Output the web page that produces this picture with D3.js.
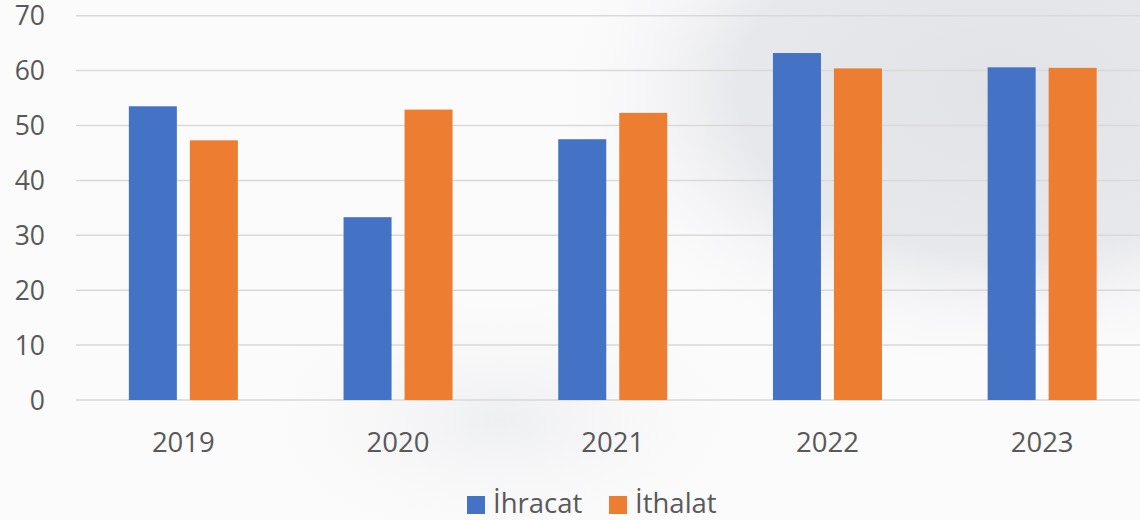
<!DOCTYPE html>
<html>
<head>
<meta charset="utf-8">
<script src="https://cdn.jsdelivr.net/npm/d3@7"></script>
<style>
  html, body { margin: 0; padding: 0; background: #ffffff; }
  svg { display: block; }
  text { font-family: "Open Sans", sans-serif; fill: #595959; }
</style>
</head>
<body>
<svg id="chart" width="1140" height="520"></svg>
<script>
const years = ["2019", "2020", "2021", "2022", "2023"];
const seriesNames = ["İhracat", "İthalat"];
const ihracat = [53.5, 33.3, 47.5, 63.2, 60.6];
const ithalat = [47.3, 52.9, 52.3, 60.4, 60.5];
const yTicks = [0, 10, 20, 30, 40, 50, 60, 70];
const colors = ["#4472C4", "#ED7D31"];

const svg = d3.select("#chart");
const W = 1140, H = 520;

// faint decorative background
const defs = svg.append("defs");
const g1 = defs.append("radialGradient").attr("id", "bg1").attr("cx", "50%").attr("cy", "50%").attr("r", "50%");
g1.append("stop").attr("offset", "0%").attr("stop-color", "#e2e3e7").attr("stop-opacity", 1);
g1.append("stop").attr("offset", "55%").attr("stop-color", "#e4e5e9").attr("stop-opacity", 0.85);
g1.append("stop").attr("offset", "100%").attr("stop-color", "#ffffff").attr("stop-opacity", 0);
const g2 = defs.append("radialGradient").attr("id", "bg2").attr("cx", "50%").attr("cy", "50%").attr("r", "50%");
g2.append("stop").attr("offset", "0%").attr("stop-color", "#ebecee").attr("stop-opacity", 0.8);
g2.append("stop").attr("offset", "100%").attr("stop-color", "#ffffff").attr("stop-opacity", 0);
svg.append("rect").attr("width", W).attr("height", H).attr("fill", "#fbfbfc");
svg.append("ellipse").attr("cx", 1000).attr("cy", 90).attr("rx", 480).attr("ry", 300).attr("fill", "url(#bg1)");
svg.append("ellipse").attr("cx", 500).attr("cy", 420).attr("rx", 320).attr("ry", 170).attr("fill", "url(#bg2)");

const x0 = d3.scaleBand().domain(years).range([76, 1149.5]).paddingInner(0).paddingOuter(0);
const x1 = d3.scaleBand().domain(seriesNames).range([0, 109]).paddingInner(0.213).paddingOuter(0);
const y = d3.scaleLinear().domain([0, 70]).range([400, 15.7]);

// gridlines
svg.append("g").selectAll("line").data(yTicks).join("line")
  .attr("x1", 76).attr("x2", W)
  .attr("y1", d => y(d)).attr("y2", d => y(d))
  .attr("stroke", "#d9d9d9").attr("stroke-width", 1.5);

// y axis labels
const yAxis = d3.axisLeft(y).tickValues(yTicks).tickSize(0).tickPadding(0);
const yg = svg.append("g").attr("transform", "translate(45,0)").call(yAxis);
yg.select(".domain").remove();
yg.selectAll("text").attr("font-size", 26.5).attr("fill", "#595959")
  .attr("font-family", "Open Sans, sans-serif").attr("dy", "0.35em");

// bars
const data = years.map((yr, i) => ({ year: yr, values: [ihracat[i], ithalat[i]] }));
const groups = svg.append("g").selectAll("g").data(data).join("g")
  .attr("transform", d => `translate(${x0(d.year) + x0.bandwidth() / 2 - 54.5},0)`);
groups.selectAll("rect").data(d => d.values.map((v, j) => ({ name: seriesNames[j], v, j })))
  .join("rect")
  .attr("x", d => x1(d.name))
  .attr("width", x1.bandwidth())
  .attr("y", d => y(d.v))
  .attr("height", d => y(0) - y(d.v))
  .attr("fill", d => colors[d.j]);

// x axis labels
const xAxis = d3.axisBottom(x0).tickSize(0).tickPadding(0);
const xg = svg.append("g").attr("transform", "translate(0,452)").call(xAxis);
xg.select(".domain").remove();
xg.selectAll("text").attr("font-size", 27.5).attr("fill", "#595959")
  .attr("font-family", "Open Sans, sans-serif").attr("dy", "0");

// legend
const legendX = [467, 609];
const leg = svg.append("g").selectAll("g").data(seriesNames).join("g")
  .attr("transform", (d, i) => `translate(${legendX[i]},0)`);
leg.append("rect").attr("x", 0).attr("y", 496).attr("width", 18).attr("height", 18)
  .attr("fill", (d, i) => colors[i]);
leg.append("text").attr("x", 26).attr("y", 513).attr("font-size", 27.5).text(d => d);
</script>
</body>
</html>
